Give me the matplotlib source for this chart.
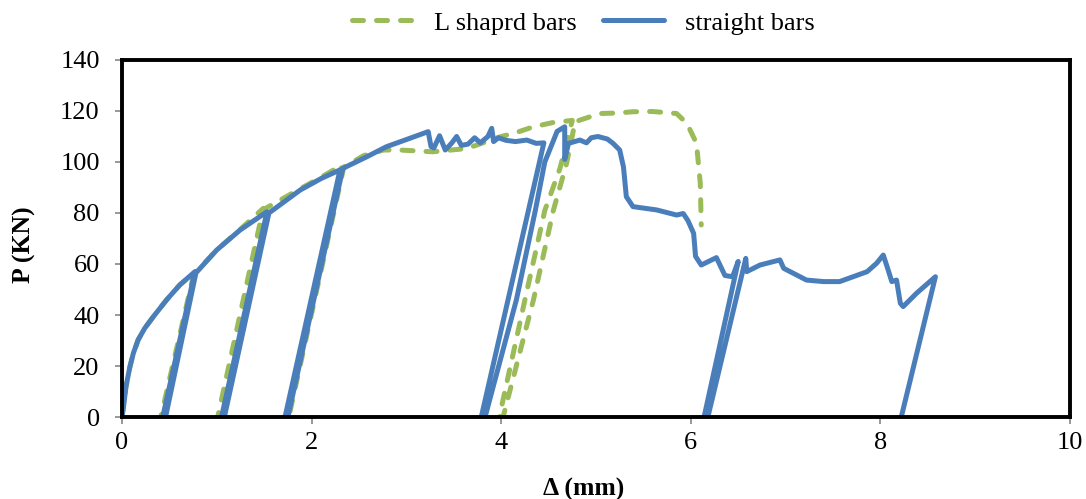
import numpy as np
import matplotlib
matplotlib.use('Agg')
import matplotlib.pyplot as plt

plt.rcParams['font.family'] = ['Liberation Serif', 'DejaVu Serif']

# Load-deflection curves (delta in mm, P in kN)
straight_x = [0.0, 0.02, 0.042, 0.084, 0.12, 0.17, 0.24, 0.33, 0.47, 0.61, 0.77,
              0.43, 0.46, 0.78, 1.0, 1.245, 1.53,
              1.05, 1.08, 1.55, 1.88, 2.10, 2.30,
              1.72, 1.75, 2.33, 2.58, 2.79, 3.0, 3.23, 3.26, 3.29, 3.35, 3.41,
              3.48, 3.53, 3.58, 3.65, 3.72, 3.78, 3.86, 3.90, 3.92, 3.97,
              4.05, 4.15, 4.27, 4.37, 4.45,
              3.79, 3.83, 4.16, 4.36, 4.46, 4.59, 4.67, 4.67, 4.71, 4.83,
              4.90, 4.95, 5.02, 5.12, 5.18, 5.25, 5.29, 5.32, 5.39, 5.64,
              5.85, 5.92, 5.97, 6.03, 6.05, 6.11, 6.27, 6.36, 6.44, 6.50,
              6.14, 6.18, 6.58, 6.59, 6.73, 6.94, 6.98, 7.22, 7.40, 7.57,
              7.86, 7.96, 8.03, 8.07, 8.12, 8.17, 8.21, 8.24, 8.38, 8.58,
              8.22]
straight_p = [0.0, 5, 11.9, 19.7, 25, 30.2, 34.8, 39.3, 45.9, 51.8, 57,
              0, 0, 56.5, 65.5, 73.3, 80.5,
              0, 0, 80, 89, 93.5, 96.9,
              0, 0, 97.5, 102, 106, 108.8, 111.9, 106, 105.5, 110.3, 104.7,
              107.5, 110, 106.5, 107, 109.5, 107.5, 110, 113.2, 108, 109.5,
              108.5, 108, 108.6, 107.3, 107.5,
              0, 0, 45.9, 81, 100, 112, 113.8, 101, 107.3, 108.6,
              107.5, 109.5, 110, 109, 107.3, 104.7, 98, 86.4, 82.5, 81.2,
              79.2, 79.8, 77, 72, 63, 59.6, 62.5, 55.5, 55, 61,
              0, 0, 62.2, 57, 59.6, 61.6, 58.3, 53.7, 53.1, 53.1,
              57, 60.3, 63.5, 59, 53.1, 53.7, 44.6, 43.3, 48.5, 55,
              0]

lshape_x = [0.0, 0.02, 0.042, 0.084, 0.12, 0.17, 0.24, 0.33, 0.47, 0.61, 0.76,
            0.41, 0.44, 0.77, 1.0, 1.245, 1.49,
            1.01, 1.04, 1.50, 1.88, 2.10, 2.32,
            1.73, 1.76, 2.34, 2.55, 2.76, 2.93, 3.28, 3.64, 3.99, 4.13,
            4.34, 4.55, 4.75,
            4.62, 4.46, 4.25, 3.98, 4.02, 4.34, 4.55, 4.69, 4.78,
            5.04, 5.22, 5.39, 5.60, 5.85, 5.96, 6.06, 6.10, 6.11]
lshape_p = [0.0, 5, 11.9, 19.7, 25, 30.2, 34.8, 39.3, 45.9, 51.8, 56.5,
            0, 0, 56.5, 65.5, 73.5, 81.8,
            0, 0, 81.5, 89.5, 94, 98.8,
            0, 0, 98, 102.5, 104.7, 104.7, 104, 105.3, 109.9, 111.2,
            113.8, 115.5, 116.3,
            97.5, 81, 45.9, 0, 0, 45.9, 81, 99.5, 115.8,
            119, 119.2, 119.7, 119.8, 119, 115.1, 107.3, 91.6, 75.3]

blue = '#4A7EBB'
green = '#9BBB59'

fig = plt.figure(figsize=(10.86, 4.99), dpi=100)
ax = fig.add_axes([0.1123, 0.1643, 0.873, 0.7155])

ax.plot(lshape_x, lshape_p, color=green, lw=3.6, dashes=(2.2, 2.6),
        dash_capstyle='round', dash_joinstyle='round', label='L shaprd bars')
ax.plot(straight_x, straight_p, color=blue, lw=3.6, solid_joinstyle='round',
        solid_capstyle='round', label='straight bars')

ax.set_xlim(0, 10)
ax.set_ylim(0, 140)
ax.set_xticks(np.arange(0, 11, 2))
ax.set_yticks(np.arange(0, 141, 20))
for s in ax.spines.values():
    s.set_linewidth(2.8)
    s.set_color('black')
ax.tick_params(axis='both', direction='out', length=5, width=1.2,
               color='#868686', labelsize=19)
ax.tick_params(axis='y', pad=11)
ax.tick_params(axis='x', pad=6)

fig.text(0.0221, 0.509, 'P (KN)', rotation=90, ha='center', va='center',
         fontsize=18.5, fontweight='bold')
fig.text(0.537, 0.02, '\u0394 (mm)', ha='center', va='center',
         fontsize=18.5, fontweight='bold')

fig.legend(loc='center', bbox_to_anchor=(0.537, 0.954), ncol=2, frameon=False,
           fontsize=19, handlelength=2.3, handletextpad=0.8, columnspacing=1.0)

fig.savefig('out.png', dpi=100)
